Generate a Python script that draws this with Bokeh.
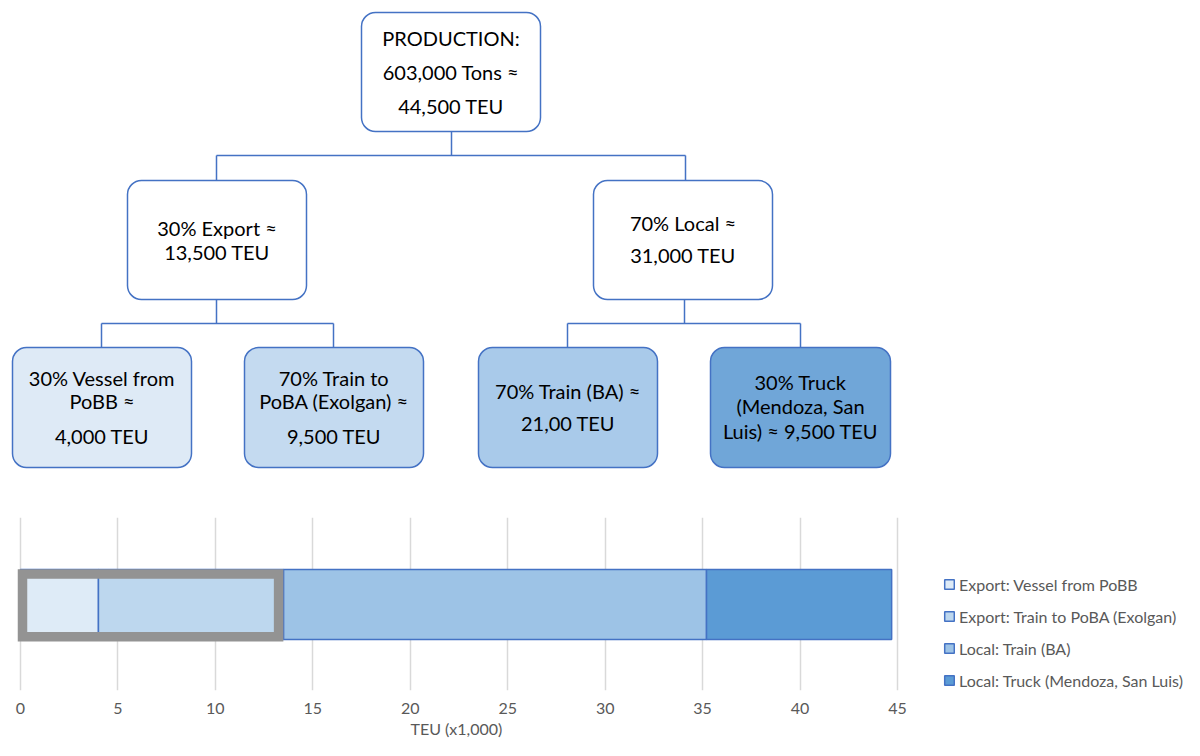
from bokeh.plotting import figure
from bokeh.models import (Range1d, BoxAnnotation, ColumnDataSource, Legend,
                          LegendItem, FixedTicker, Title)
from bokeh.layouts import column
from bokeh.embed import file_html
from bokeh.resources import INLINE
from bokeh.core.properties import value
import numpy as np

# ------------------------------------------------------------------ data
segments = ["Export: Vessel from PoBB",
            "Export: Train to PoBA (Exolgan)",
            "Local: Train (BA)",
            "Local: Truck (Mendoza, San Luis)"]
teu_thousands = [4.0, 9.5, 21.7, 9.5]
segment_group = ["Export", "Export", "Local", "Local"]
x_ticks = [0, 5, 10, 15, 20, 25, 30, 35, 40, 45]
axis_title = "TEU (x1,000)"

root_label = ["PRODUCTION:", "603,000 Tons ≈", "44,500 TEU"]
export_label = ["30% Export ≈", "13,500 TEU"]
local_label = ["70% Local ≈", "31,000 TEU"]
vessel_label = ["30% Vessel from", "PoBB ≈", "4,000 TEU"]
train_export_label = ["70% Train to", "PoBA (Exolgan) ≈", "9,500 TEU"]
train_local_label = ["70% Train (BA) ≈", "21,00 TEU"]
truck_label = ["30% Truck", "(Mendoza, San", "Luis) ≈ 9,500 TEU"]

# ------------------------------------------------------------------ styles
FONT = "Lato"
BLUE = "#4472C4"
GREY_TXT = "#595959"
seg_colors = ["#DEEBF7", "#BDD7EE", "#9DC3E6", "#5B9BD5"]

# ------------------------------------------------------------------ diagram
TOP_H = 497
top = figure(width=1184, height=TOP_H, x_range=Range1d(0, 1184),
             y_range=Range1d(TOP_H, 0), x_axis_location=None,
             y_axis_location=None, toolbar_location=None,
             output_backend="svg", min_border=0, outline_line_color=None)
top.grid.visible = False

# layout: (label lines, left, right, top, bottom, fill, line y positions)
nodes = [
    (root_label, 361, 540, 12, 131, "#FFFFFF", [37, 71, 105]),
    (export_label, 127, 306, 180, 299, "#FFFFFF", [227, 251]),
    (local_label, 593, 772, 180, 299, "#FFFFFF", [222, 254]),
    (vessel_label, 12, 191, 347, 467, "#DEEAF6", [377, 400, 435]),
    (train_export_label, 244, 423, 347, 467, "#C4DAF0", [377, 400, 435]),
    (train_local_label, 478, 657, 347, 467, "#A9CAEA", [390, 422]),
    (truck_label, 710, 890, 347, 467, "#70A6D8", [381, 405, 430]),
]

tx, ty, tt = [], [], []
for lines, l, r, t, b, fill, ys in nodes:
    top.add_layout(BoxAnnotation(left=l, right=r, top=t, bottom=b,
                                 fill_color=fill, fill_alpha=1.0,
                                 line_color=BLUE, line_alpha=1.0,
                                 line_width=1.5, border_radius=14,
                                 level="underlay"))
    for line, yy in zip(lines, ys):
        tx.append((l + r) / 2)
        ty.append(yy)
        tt.append(line)

# connectors
xs = [[451, 451], [216, 685], [216, 216], [685, 685],
      [216, 216], [101, 333], [101, 101], [333, 333],
      [684, 684], [567, 800], [567, 567], [800, 800]]
ys = [[131, 155], [155, 155], [155, 180], [155, 180],
      [299, 323], [323, 323], [323, 347], [323, 347],
      [299, 323], [323, 323], [323, 347], [323, 347]]
top.multi_line(xs=xs, ys=ys, line_color=BLUE, line_width=1.5)

top.text(x=tx, y=ty, text=tt, text_align="center", text_baseline="middle",
         text_font=value(FONT), text_font_size="20px", text_color="#000000")

# ------------------------------------------------------------------ bar chart
right_edges = np.cumsum(teu_thousands)
left_edges = right_edges - np.array(teu_thousands)
src = ColumnDataSource(dict(seg=segments, left=left_edges, right=right_edges,
                            color=seg_colors, y=[0] * len(segments)))

PX = 877 / 45.0          # pixels per 1,000 TEU; 0 sits at x=20, 45 at x=897
PY = 70.0                # pixels per bar-height unit
bot = figure(width=1184, height=243,
             x_range=Range1d(-20 / PX, 45 + (1184 - 897) / PX),
             y_range=Range1d(-86 / PY, 87 / PY), toolbar_location=None,
             output_backend="svg", y_axis_location=None,
             min_border_left=0, min_border_right=0, min_border_top=20,
             min_border_bottom=50, outline_line_color=None)

bars = bot.hbar(y="y", left="left", right="right", height=1.0,
                fill_color="color", line_color=BLUE, line_width=1.5,
                source=src)

# grey highlight around the export share
export_total = float(sum(v for v, g in zip(teu_thousands, segment_group)
                         if g == "Export"))
bot.quad(left=[2.0 / PX], right=[export_total - 5.0 / PX],
         top=[0.5 - 4.5 / PY], bottom=[-0.5 + 2.8 / PY],
         fill_color=None, line_color="#939393", line_width=9.5,
         line_join="miter")

ax = bot.xaxis[0]
ax.ticker = FixedTicker(ticks=x_ticks)
ax.bounds = (x_ticks[0], x_ticks[-1])
ax.axis_line_color = None
ax.major_tick_line_color = None
ax.minor_tick_line_color = None
ax.major_tick_out = 0
ax.major_tick_in = 0
ax.major_label_text_font = FONT
ax.major_label_text_font_size = "16px"
ax.major_label_text_color = GREY_TXT
ax.major_label_standoff = 12

bot.add_layout(Title(text=axis_title, align="left", offset=410,
                     text_font=FONT, text_font_size="16px",
                     text_font_style="normal", text_color=GREY_TXT,
                     standoff=0), "below")

bot.xgrid.ticker = FixedTicker(ticks=x_ticks)
bot.xgrid.grid_line_color = "#D9D9D9"
bot.xgrid.grid_line_width = 1.5
bot.ygrid.visible = False

items = [LegendItem(label=s, renderers=[bars], index=i)
         for i, s in enumerate(segments)]
legend = Legend(items=items, location=(943, 0), orientation="vertical",
                glyph_width=12, glyph_height=12, label_height=20,
                label_standoff=4, spacing=12, padding=0, margin=0,
                border_line_color=None, background_fill_alpha=0,
                label_text_font=FONT, label_text_font_size="16px",
                label_text_color=GREY_TXT)
bot.add_layout(legend)

layout = column(top, bot, spacing=0)
open("out.html", "w").write(file_html(layout, INLINE))
